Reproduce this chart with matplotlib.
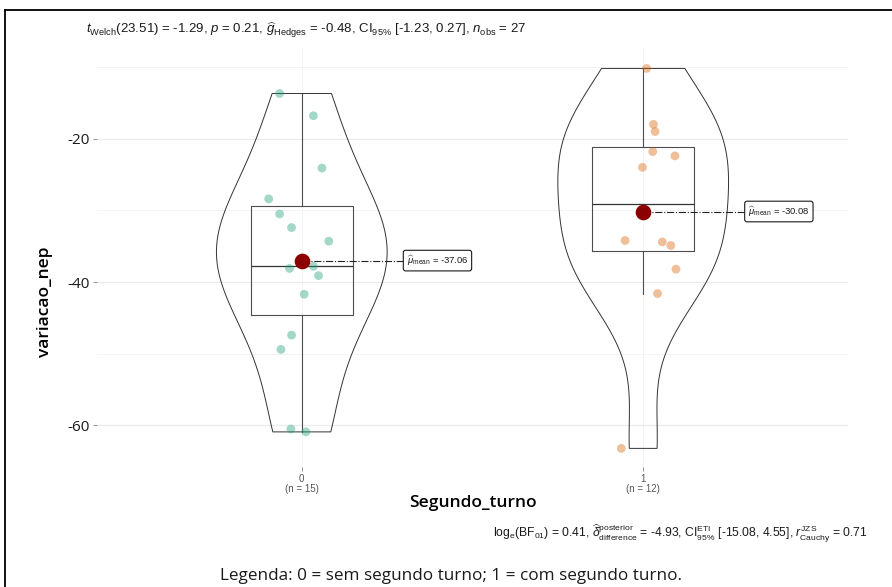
import numpy as np
import matplotlib.pyplot as plt
from matplotlib.lines import Line2D

# --- values ---
groups = [1, 2]
group_names = ["0", "1"]
group_n = [15, 12]
vals_0 = [-13.7, -16.8, -24.1, -28.4, -30.5, -32.4, -34.3, -37.8, -39.1,
          -38.1, -41.7, -47.4, -49.4, -60.5, -60.9]
vals_1 = [-10.2, -18.0, -19.0, -21.8, -22.4, -24.0, -34.2, -34.4, -34.9,
          -38.2, -41.6, -63.2]
# horizontal jitter of each point (as seen in the picture)
jitter_0 = [-0.065, 0.034, 0.059, -0.097, -0.065, -0.030, 0.079, 0.034,
            0.049, -0.036, 0.007, -0.030, -0.061, -0.032, 0.012]
jitter_1 = [0.010, 0.030, 0.035, 0.028, 0.093, -0.002, -0.053, 0.056,
            0.081, 0.096, 0.042, -0.064]
mean_text = ["-37.06", "-30.08"]
colors = ["#1B9E77", "#D95F02"]

subtitle = (r"$\mathit{t}_{\mathrm{Welch}}$(23.51) = -1.29, $\mathit{p}$ = 0.21, "
            r"$\widehat{\mathit{g}}_{\mathrm{Hedges}}$ = -0.48, CI$_{95\%}$ [-1.23, 0.27], "
            r"$\mathit{n}_{\mathrm{obs}}$ = 27")
bayes = (r"log$_{\mathrm{e}}$(BF$_{01}$) = 0.41, "
         r"$\widehat{\delta}_{\mathrm{difference}}^{\mathrm{posterior}}$ = -4.93, "
         r"CI$_{95\%}^{\mathrm{ETI}}$ [-15.08, 4.55], "
         r"$\mathit{r}_{\mathrm{Cauchy}}^{\mathrm{JZS}}$ = 0.71")
caption = "Legenda: 0 = sem segundo turno; 1 = com segundo turno."

plt.rcParams["mathtext.fontset"] = "custom"
plt.rcParams["mathtext.rm"] = "Liberation Sans"
plt.rcParams["mathtext.it"] = "Liberation Sans:italic"
plt.rcParams["mathtext.bf"] = "Liberation Sans:bold"
plt.rcParams["mathtext.sf"] = "Liberation Sans"
plt.rcParams["axes.unicode_minus"] = False


def nrd0(x):
    x = np.asarray(x)
    q75, q25 = np.percentile(x, [75, 25])
    lo = min(x.std(ddof=1), (q75 - q25) / 1.34)
    return 0.9 * lo * len(x) ** -0.2


def ydensity(x, adjust=1.35):
    x = np.asarray(x)
    ys = np.linspace(x.min(), x.max(), 512)
    bw = nrd0(x) * adjust
    d = np.exp(-0.5 * ((ys[:, None] - x[None, :]) / bw) ** 2).sum(axis=1)
    return ys, d / d.max()


fig = plt.figure(figsize=(8.92, 5.87), dpi=100)
ax = fig.add_axes([0.1087, 0.2044, 0.842, 0.712])

for g, vals, jit, col, mt in zip(groups, [vals_0, vals_1], [jitter_0, jitter_1],
                                  colors, mean_text):
    vals = np.asarray(vals)
    ys, d = ydensity(vals)
    xs = np.concatenate([g - 0.25 * d, (g + 0.25 * d)[::-1]])
    yy = np.concatenate([ys, ys[::-1]])
    ax.fill(xs, yy, facecolor="none", edgecolor="#333333", lw=0.7, zorder=2)

    ax.boxplot([vals], positions=[g], widths=0.3, showfliers=False, showcaps=False,
               patch_artist=False, manage_ticks=False,
               boxprops=dict(color="#4d4d4d", lw=0.8),
               whiskerprops=dict(color="#4d4d4d", lw=0.8),
               medianprops=dict(color="#333333", lw=0.9), zorder=3)

    ax.scatter(g + np.asarray(jit), vals, s=40, color=col, alpha=0.4,
               edgecolors="none", zorder=4)

    m = vals.mean()
    ax.plot([g, g + 0.3], [m, m], color="#222222", lw=0.8, ls="-.", zorder=4)
    ax.scatter([g], [m], s=105, color="#8B0000", zorder=5)
    ax.text(g + 0.307, m, r"$\widehat{\mu}_{\mathrm{mean}}$ = " + mt,
            ha="left", va="center", fontsize=6.8, family="Liberation Sans",
            color="#1a1a1a", zorder=6,
            bbox=dict(boxstyle="round,pad=0.35,rounding_size=0.25",
                      fc="white", ec="#1a1a1a", lw=0.8))

ax.set_xlim(0.4, 2.6)
ax.set_ylim(-65.8, -7.5)
ax.set_yticks([-60, -40, -20])
ax.set_yticks([-50, -30, -10], minor=True)
ax.set_xticks(groups)
ax.set_xticklabels([f"{nm}\n(n = {n})" for nm, n in zip(group_names, group_n)],
                   fontsize=7, color="#555555", family="Liberation Sans",
                   linespacing=1.05)
for lab in ax.get_yticklabels():
    lab.set_family("Open Sans")
    lab.set_fontsize(11)
    lab.set_color("#1a1a1a")

ax.grid(True, which="major", axis="y", color="#EBEBEB", lw=0.9)
ax.grid(True, which="minor", axis="y", color="#F3F3F3", lw=0.7)
ax.grid(True, which="major", axis="x", color="#F3F3F3", lw=0.7)
ax.set_axisbelow(True)
ax.tick_params(which="major", length=3, color="#999999", pad=2)
ax.tick_params(which="minor", length=0)
for s in ax.spines.values():
    s.set_visible(False)

fig.text(472.5 / 892, 1 - 503 / 587, "Segundo_turno", ha="center", va="center",
         fontsize=12.5, family="Open Sans", fontweight="semibold")
fig.text(45 / 892, 1 - 302 / 587, "variacao_nep", ha="center", va="center",
         rotation=90, fontsize=12.5, family="Open Sans", fontweight="semibold")

fig.text(86 / 892, 1 - 30 / 587, subtitle, ha="left", va="center",
         fontsize=9.5, family="Liberation Sans", color="#1a1a1a")
fig.text(868 / 892, 1 - 534 / 587, bayes, ha="right", va="center",
         fontsize=8.7, family="Liberation Sans", color="#1a1a1a")
fig.text(451 / 892, 1 - 576 / 587, caption, ha="center", va="center",
         fontsize=12.3, family="Open Sans", color="#1a1a1a")

# frame lines of the pasted image
fig.add_artist(Line2D([4.5 / 892, 4.5 / 892], [0, 1 - 10 / 587],
                      transform=fig.transFigure, color="black", lw=1.3))
fig.add_artist(Line2D([4.5 / 892, 1], [1 - 10 / 587, 1 - 10 / 587],
                      transform=fig.transFigure, color="black", lw=1.3))

fig.savefig("out.png", dpi=100)
plt.close(fig)
